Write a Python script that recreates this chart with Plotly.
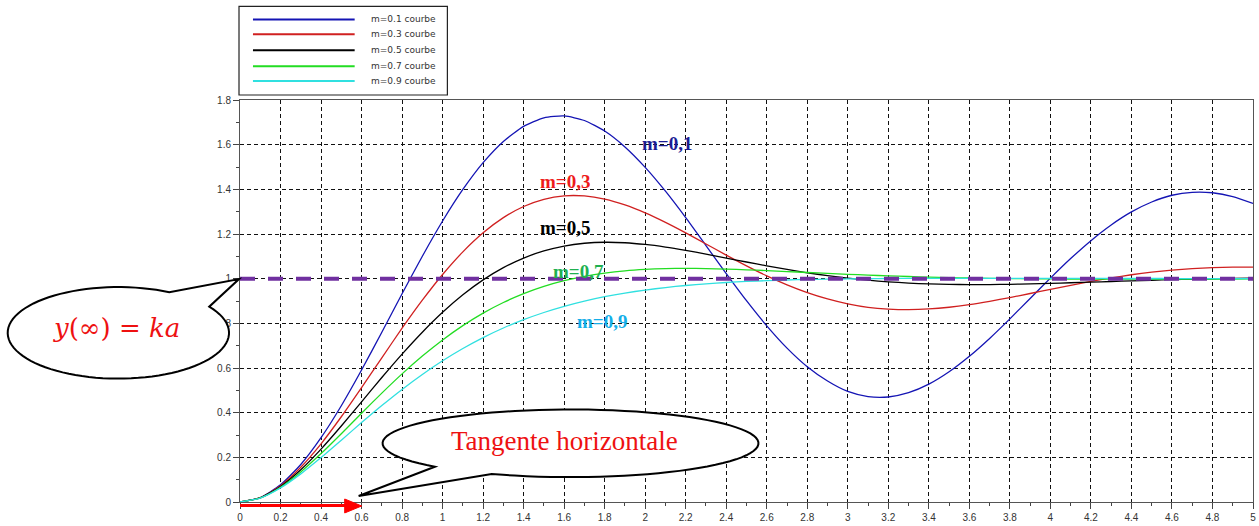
import math
import plotly.graph_objects as go

# ---------------- data ----------------
t = [0.0, 0.1, 0.2, 0.3, 0.4, 0.5, 0.6, 0.7, 0.8, 0.9,
     1.0, 1.1, 1.2, 1.3, 1.4, 1.5, 1.6, 1.7, 1.8, 1.9,
     2.0, 2.1, 2.2, 2.3, 2.4, 2.5, 2.6, 2.7, 2.8, 2.9,
     3.0, 3.1, 3.2, 3.3, 3.4, 3.5, 3.6, 3.7, 3.8, 3.9,
     4.0, 4.1, 4.2, 4.3, 4.4, 4.5, 4.6, 4.7, 4.8, 4.9, 5.0]

y_m01 = [0, 0.0197, 0.0769, 0.1679, 0.2879, 0.4310, 0.5908, 0.7602, 0.9324, 1.1005,
         1.2581, 1.3993, 1.5195, 1.6145, 1.6821, 1.7202, 1.7286, 1.7082, 1.6610, 1.5898,
         1.4984, 1.3916, 1.2732, 1.1481, 1.0228, 0.9014, 0.7888, 0.6891, 0.6057, 0.5416,
         0.4949, 0.4717, 0.4701, 0.4893, 0.5276, 0.5830, 0.6524, 0.7325, 0.8201, 0.9115,
         1.0026, 1.0900, 1.1703, 1.2407, 1.2990, 1.3433, 1.3735, 1.3868, 1.3847, 1.3676, 1.3369]

y_m03 = [0, 0.0191, 0.0730, 0.1556, 0.2605, 0.3817, 0.5122, 0.6458, 0.7781, 0.9036,
         1.0186, 1.1199, 1.2053, 1.2732, 1.3232, 1.3554, 1.3707, 1.3703, 1.3560, 1.3299,
         1.2944, 1.2519, 1.2049, 1.1554, 1.1054, 1.0573, 1.0124, 0.9723, 0.9377, 0.9095,
         0.8874, 0.8718, 0.8639, 0.8614, 0.8644, 0.8721, 0.8838, 0.8986, 0.9153, 0.9336,
         0.9521, 0.9704, 0.9878, 1.0036, 1.0175, 1.0292, 1.0384, 1.0451, 1.0495, 1.0515, 1.0513]

y_m05 = [0, 0.0187, 0.0694, 0.1446, 0.2370, 0.3403, 0.4483, 0.5574, 0.6623, 0.7604,
         0.8494, 0.9277, 0.9945, 1.0493, 1.0924, 1.1242, 1.1462, 1.1585, 1.1630, 1.1608,
         1.1531, 1.1414, 1.1266, 1.1100, 1.0924, 1.0746, 1.0574, 1.0412, 1.0264, 1.0134,
         1.0023, 0.9931, 0.9859, 0.9803, 0.9765, 0.9744, 0.9735, 0.9737, 0.9748, 0.9767,
         0.9790, 0.9817, 0.9845, 0.9874, 0.9903, 0.9929, 0.9954, 0.9975, 0.9994, 1.0009, 1.0022]

y_m07 = [0, 0.0182, 0.0661, 0.1347, 0.2168, 0.3059, 0.3975, 0.4876, 0.5737, 0.6534,
         0.7258, 0.7899, 0.8458, 0.8933, 0.9330, 0.9653, 0.9909, 1.0106, 1.0251, 1.0353,
         1.0416, 1.0450, 1.0460, 1.0452, 1.0429, 1.0398, 1.0360, 1.0319, 1.0277, 1.0235,
         1.0196, 1.0159, 1.0126, 1.0096, 1.0071, 1.0049, 1.0031, 1.0016, 1.0004, 0.9995,
         0.9988, 0.9984, 0.9981, 0.9979, 0.9979, 0.9979, 0.9980, 0.9982, 0.9983, 0.9985, 0.9987]

y_m09 = [0, 0.0177, 0.0630, 0.1260, 0.1991, 0.2770, 0.3555, 0.4319, 0.5042, 0.5712,
         0.6324, 0.6873, 0.7361, 0.7790, 0.8163, 0.8485, 0.8761, 0.8994, 0.9191, 0.9355,
         0.9491, 0.9603, 0.9695, 0.9769, 0.9828, 0.9875, 0.9912, 0.9941, 0.9963, 0.9979,
         0.9992, 1.0001, 1.0007, 1.0011, 1.0014, 1.0015, 1.0015, 1.0015, 1.0014, 1.0013,
         1.0012, 1.0011, 1.0010, 1.0009, 1.0008, 1.0007, 1.0006, 1.0005, 1.0004, 1.0003, 1.0003]

series_names = ["m=0.1 courbe", "m=0.3 courbe", "m=0.5 courbe", "m=0.7 courbe", "m=0.9 courbe"]
curve_labels = ["m=0,1", "m=0,3", "m=0,5", "m=0,7", "m=0,9"]

final_value_x = [0, 5]
final_value_y = [1, 1]

x_ticks = [0, 0.2, 0.4, 0.6, 0.8, 1, 1.2, 1.4, 1.6, 1.8, 2, 2.2, 2.4, 2.6, 2.8,
           3, 3.2, 3.4, 3.6, 3.8, 4, 4.2, 4.4, 4.6, 4.8, 5]
x_tick_text = ["0", "0.2", "0.4", "0.6", "0.8", "1", "1.2", "1.4", "1.6", "1.8", "2", "2.2", "2.4",
               "2.6", "2.8", "3", "3.2", "3.4", "3.6", "3.8", "4", "4.2", "4.4", "4.6", "4.8", "5"]
y_ticks = [0, 0.2, 0.4, 0.6, 0.8, 1, 1.2, 1.4, 1.6, 1.8]
y_tick_text = ["0", "0.2", "0.4", "0.6", "0.8", "1", "1.2", "1.4", "1.6", "1.8"]

# ---------------- styles / layout ----------------
W, H = 1259, 526
PL, PR, PT, PB = 240, 1256, 100, 504


def px(x):
    return (x - PL) / (PR - PL)


def py(y):
    return (PB - y) / (PB - PT)


curve_colors = ["#1414b4", "#d02020", "#000000", "#22dd22", "#30e0e0"]
label_colors = ["#1c1c94", "#ee1c1c", "#000000", "#20b050", "#14aee8"]
label_pos = [(2.106, 1.604), (1.602, 1.435), (1.602, 1.230), (1.673, 1.034), (1.789, 0.807)]

series = [y_m01, y_m03, y_m05, y_m07, y_m09]

fig = go.Figure()
for name, ys, col in zip(series_names, series, curve_colors):
    fig.add_trace(go.Scatter(x=t, y=ys, mode="lines", name=name,
                             line=dict(color=col, width=1.3, shape="spline", smoothing=0.6),
                             showlegend=False))

fig.add_trace(go.Scatter(x=final_value_x, y=final_value_y, mode="lines",
                         line=dict(color="#7030a0", width=4, dash="15px,13px"),
                         showlegend=False))

shapes = []
annotations = []

# curve labels
for txt, (lx, ly), col in zip(curve_labels, label_pos, label_colors):
    annotations.append(dict(x=lx, y=ly, xref="x", yref="y", text="<b>" + txt + "</b>",
                            showarrow=False, xanchor="center", yanchor="middle",
                            font=dict(family="Liberation Serif", size=19, color=col)))

# custom legend
shapes.append(dict(type="rect", xref="paper", yref="paper",
                   x0=px(239), x1=px(448), y0=py(6), y1=py(95),
                   line=dict(color="#222222", width=1.2), fillcolor="white", layer="above"))
legend_rows = [19, 34, 50, 66, 81]
for name, col, ry in zip(series_names, curve_colors, legend_rows):
    shapes.append(dict(type="line", xref="paper", yref="paper",
                       x0=px(253), x1=px(355), y0=py(ry), y1=py(ry),
                       line=dict(color=col, width=2), layer="above"))
    annotations.append(dict(x=px(369), y=py(ry), xref="paper", yref="paper", text=name,
                            showarrow=False, xanchor="left", yanchor="middle",
                            font=dict(family="DejaVu Sans", size=9, color="#333333")))


def callout_path(cx, cy, rx, ry, a_start, a_end, tip, n=90):
    pts = []
    a0 = math.radians(a_start)
    a1 = math.radians(a_end)
    while a1 <= a0:
        a1 += 2 * math.pi
    for i in range(n + 1):
        a = a0 + (a1 - a0) * i / n
        pts.append((cx + rx * math.cos(a), cy + ry * math.sin(a)))
    pts.append(tip)
    s = "M {:.5f},{:.5f}".format(px(pts[0][0]), py(pts[0][1]))
    for (x, y) in pts[1:]:
        s += " L {:.5f},{:.5f}".format(px(x), py(y))
    return s + " Z"


# callout y(inf) = ka
shapes.append(dict(type="path", xref="paper", yref="paper",
                   path=callout_path(118, 334, 111, 46, -34.8, -62.6, (239, 280)),
                   line=dict(color="black", width=2), fillcolor="white", layer="above"))
annotations.append(dict(x=px(116), y=py(329), xref="paper", yref="paper",
                        text="<i>y</i>(∞) = <i>ka</i>", showarrow=False,
                        xanchor="center", yanchor="middle",
                        font=dict(family="DejaVu Serif", size=26, color="#ee1111")))

# callout Tangente horizontale
shapes.append(dict(type="path", xref="paper", yref="paper",
                   path=callout_path(571.5, 445, 188.5, 34, 136.2, 114.8, (359, 498)),
                   line=dict(color="black", width=2), fillcolor="white", layer="above"))
annotations.append(dict(x=px(565), y=py(443), xref="paper", yref="paper",
                        text="Tangente horizontale", showarrow=False,
                        xanchor="center", yanchor="middle",
                        font=dict(family="Liberation Serif", size=27, color="#ee1111")))

# red arrow along the time axis
shapes.append(dict(type="line", xref="paper", yref="paper",
                   x0=px(240), x1=px(347), y0=py(507.5), y1=py(507.5),
                   line=dict(color="#ff0000", width=3), layer="above"))
shapes.append(dict(type="path", xref="paper", yref="paper",
                   path="M {:.5f},{:.5f} L {:.5f},{:.5f} L {:.5f},{:.5f} Z".format(
                       px(345), py(501), px(362), py(508), px(345), py(515)),
                   line=dict(color="#ff0000", width=1), fillcolor="#ff0000", layer="above"))

axis_common = dict(showgrid=True, gridcolor="#111111", gridwidth=1, griddash="4px,3px",
                   zeroline=False, showline=True, linecolor="#555555", linewidth=1,
                   mirror=True, ticks="outside", ticklen=6, tickcolor="#444444",
                   tickfont=dict(family="Liberation Sans", size=10, color="#333333"))

fig.update_layout(
    width=W, height=H,
    margin=dict(l=PL, r=W - PR, t=PT, b=H - PB, pad=0),
    paper_bgcolor="white", plot_bgcolor="white",
    shapes=shapes, annotations=annotations,
    xaxis=dict(range=[0, 5], tickvals=x_ticks, ticktext=x_tick_text,
               minor=dict(ticks="outside", ticklen=3, dtick=0.1, tick0=0,
                          tickcolor="#444444", showgrid=False),
               **axis_common),
    yaxis=dict(range=[0, 1.8], tickvals=y_ticks, ticktext=y_tick_text,
               minor=dict(ticks="outside", ticklen=3, dtick=0.1, tick0=0,
                          tickcolor="#444444", showgrid=False),
               **axis_common),
)

fig.write_html("out.html")
